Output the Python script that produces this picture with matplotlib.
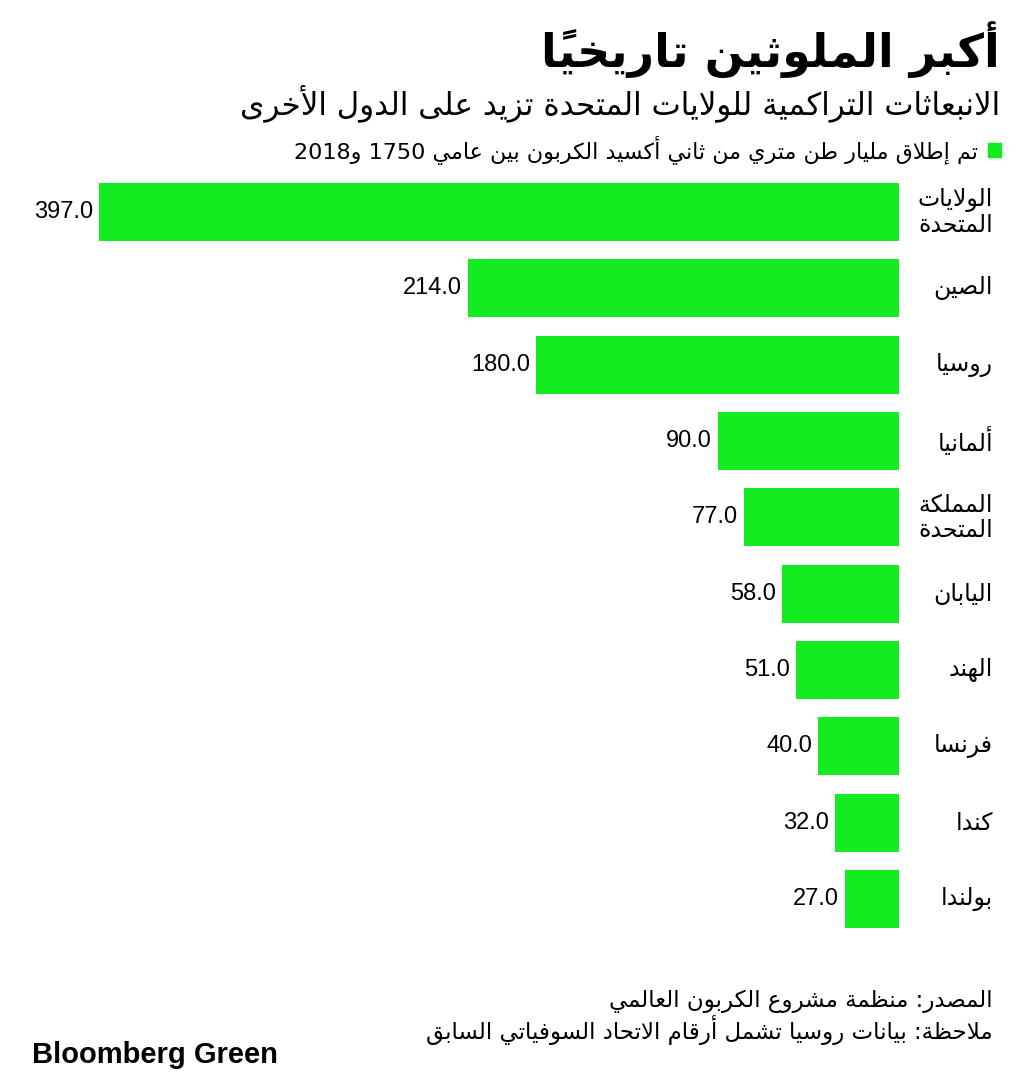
import matplotlib.pyplot as plt
from matplotlib.patches import Rectangle

# --- data ---
countries = ["الولايات\nالمتحدة", "الصين", "روسيا", "ألمانيا", "المملكة\nالمتحدة",
             "اليابان", "الهند", "فرنسا", "كندا", "بولندا"]
emissions = [397.0, 214.0, 180.0, 90.0, 77.0, 58.0, 51.0, 40.0, 32.0, 27.0]

title = "أكبر الملوثين تاريخياً"
subtitle = "الانبعاثات التراكمية للولايات المتحدة تزيد على الدول الأخرى"
legend_label = "تم إطلاق مليار طن متري من ثاني أكسيد الكربون بين عامي 1750 و2018"
source = "المصدر: منظمة مشروع الكربون العالمي"
note = "ملاحظة: بيانات روسيا تشمل أرقام الاتحاد السوفياتي السابق"

GREEN = "#14eb21"

# --- minimal arabic shaping (matplotlib has no complex text layout) ---
_SEQ = "ءآأؤإئابةتثجحخدذرزسشصضطظعغفقكلمنهوىي"
_CNT = [1, 2, 2, 2, 2, 4, 2, 4, 2, 4, 4, 4, 4, 4, 2, 2, 2, 2, 4, 4, 4, 4, 4, 4,
        4, 4, 4, 4, 4, 4, 4, 4, 4, 2, 2, 4]
FORMS = {}
_code = 0xFE80
for _ch, _n in zip(_SEQ, _CNT):
    FORMS[_ch] = [chr(_code + k) for k in range(_n)]
    _code += _n
LAM_ALEF = {"آ": 0xFEF5, "أ": 0xFEF7, "إ": 0xFEF9, "ا": 0xFEFB}
MARKS = set(chr(c) for c in range(0x064B, 0x0653))


def joins_right(c):
    return c in FORMS and len(FORMS[c]) > 1


def joins_left(c):
    return c in FORMS and len(FORMS[c]) == 4


def shape(text):
    n = len(text)
    res = []
    i = 0
    while i < n:
        c = text[i]
        if c not in FORMS:
            res.append(c)
            i += 1
            continue
        j = i - 1
        while j >= 0 and text[j] in MARKS:
            j -= 1
        prev = text[j] if j >= 0 else ""
        k = i + 1
        while k < n and text[k] in MARKS:
            k += 1
        nxt = text[k] if k < n else ""
        p = joins_left(prev) and joins_right(c)
        if c == "ل" and nxt in LAM_ALEF:
            res.append(chr(LAM_ALEF[nxt] + (1 if p else 0)))
            i = k + 1
            continue
        nx = joins_left(c) and joins_right(nxt)
        f = FORMS[c]
        if p and nx:
            res.append(f[3])
        elif p:
            res.append(f[1])
        elif nx:
            res.append(f[2])
        else:
            res.append(f[0])
        i += 1
    return "".join(res)


def ar(text):
    lines = []
    for line in text.split("\n"):
        clusters = []
        for ch in shape(line):
            if ch in MARKS and clusters:
                clusters[-1] += ch
            else:
                clusters.append(ch)
        out, run = [], []
        for cl in clusters:
            if cl[0].isascii() and (cl[0].isalnum() or cl[0] == "."):
                run.append(cl)
            else:
                if run:
                    out.append("".join(run))
                    run = []
                out.append(cl)
        if run:
            out.append("".join(run))
        lines.append("".join(reversed(out)))
    return "\n".join(lines)


AR_FONT = ["DejaVu Sans"]
NUM_FONT = ["Liberation Sans", "DejaVu Sans"]

fig = plt.figure(figsize=(10.32, 10.8), dpi=100)
W, H = 1032, 1080

ax = fig.add_axes([99 / W, 1 - 937 / H, 800 / W, 763 / H])
ypos = list(range(len(countries)))
ax.barh(ypos, emissions, height=0.76, color=GREEN)
ax.set_xlim(max(emissions), 0)
ax.set_ylim(len(countries) - 0.5, -0.5)
ax.axis("off")

for i, v in enumerate(emissions):
    ax.annotate(f"{v:.1f}", (v, i), xytext=(-6, 0), textcoords="offset pixels",
                ha="right", va="center", fontsize=17, family=NUM_FONT)
    ax.annotate(ar(countries[i]), (0, i), xytext=(94, 0), textcoords="offset pixels",
                ha="right", va="center", fontsize=17, family=AR_FONT,
                linespacing=1.05)

fig.text(1000 / W, 1 - 50 / H, ar(title), ha="right", va="center",
         fontsize=33, weight="bold", family=AR_FONT)
fig.text(1000 / W, 1 - 103 / H, ar(subtitle), ha="right", va="center",
         fontsize=22.3, family=AR_FONT)
fig.add_artist(Rectangle((988 / W, 1 - 157 / H), 13 / W, 14 / H,
                         transform=fig.transFigure, color=GREEN))
fig.text(978 / W, 1 - 150 / H, ar(legend_label), ha="right", va="center",
         fontsize=16, family=AR_FONT)

fig.text(993 / W, 1 - 1001 / H, ar(source), ha="right", va="center",
         fontsize=16.5, family=AR_FONT)
fig.text(993 / W, 1 - 1030 / H, ar(note), ha="right", va="center",
         fontsize=16.5, family=AR_FONT)
fig.text(32 / W, 1 - 1055 / H, "Bloomberg Green", ha="left", va="center",
         fontsize=21, weight="bold", family=NUM_FONT)

fig.savefig("out.png", dpi=100)
